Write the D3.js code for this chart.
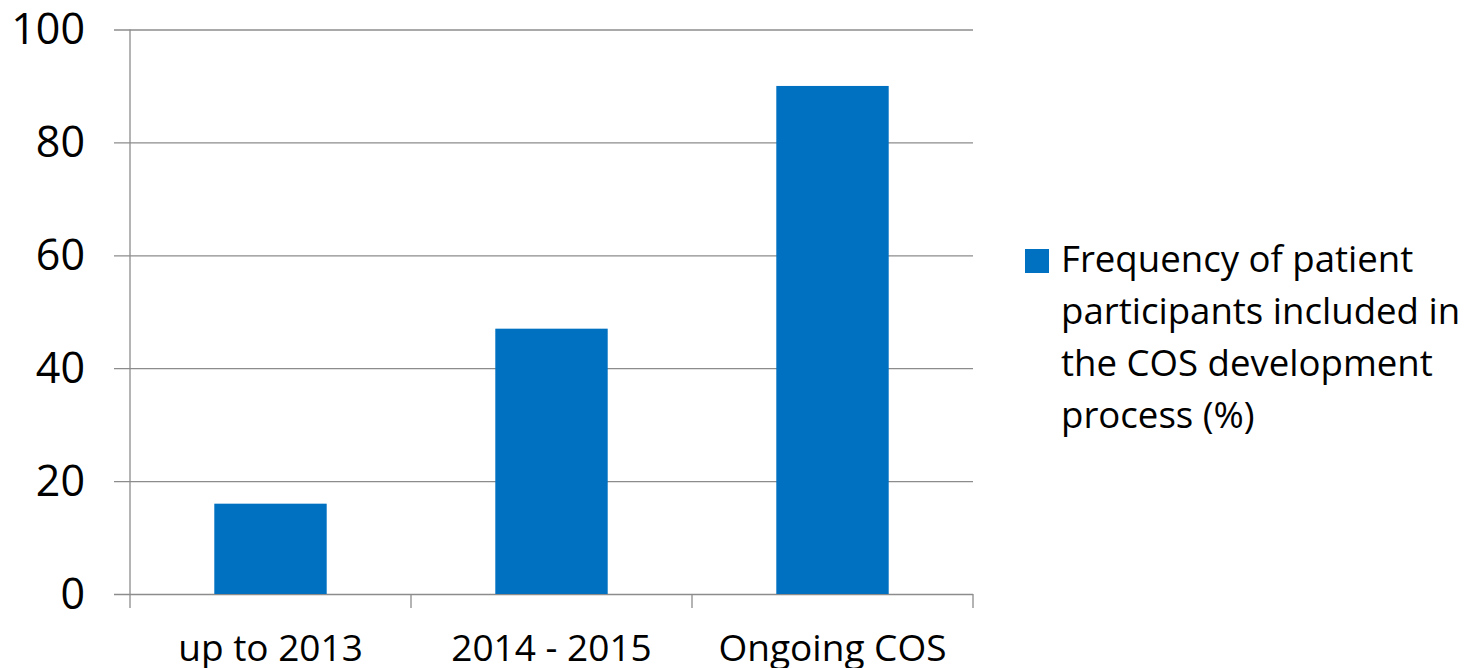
<!DOCTYPE html>
<html>
<head>
<meta charset="utf-8">
<script src="https://cdn.jsdelivr.net/npm/d3@7/dist/d3.min.js"></script>
<style>
  html, body { margin: 0; padding: 0; background: #fff; }
  svg { display: block; }
  text { font-family: "Open Sans", "DejaVu Sans", sans-serif; fill: #000; }
</style>
</head>
<body>
<svg id="chart" width="1478" height="668"></svg>
<script>
// Share of COS studies that included patient participants, by period
const categories = ["up to 2013", "2014 - 2015", "Ongoing COS"];
const values = [16, 47, 90];
const yTicks = [0, 20, 40, 60, 80, 100];
const seriesName = "Frequency of patient participants included in the COS development process (%)";
const legendLines = ["Frequency of patient", "participants included in", "the COS development", "process (%)"];

const svg = d3.select("#chart");
const plot = { left: 130, right: 973, top: 29.5, bottom: 594 };
const barColor = "#0070C0";
const gridColor = "#8c8c8c";

const x = d3.scaleBand()
  .domain(categories)
  .range([plot.left, plot.right])
  .paddingInner(0.6)
  .paddingOuter(0.3);

// boundaries between categories (for the tick marks below the axis)
const xEdge = d3.scaleLinear().domain([0, categories.length]).range([plot.left, plot.right]);

const y = d3.scaleLinear().domain([0, 100]).range([plot.bottom, plot.top]);

// horizontal gridlines + y labels
const yAxis = svg.append("g")
  .attr("transform", `translate(${plot.left},0)`)
  .call(d3.axisLeft(y).tickValues(yTicks).tickSize(-(plot.right - plot.left)).tickPadding(0));
yAxis.select(".domain").remove();
yAxis.selectAll(".tick line")
  .attr("x1", -16)
  .attr("stroke", gridColor)
  .attr("stroke-width", 1.3);
yAxis.selectAll(".tick text")
  .attr("x", -45)
  .attr("dy", 14)
  .attr("font-size", 43)
  .attr("text-anchor", "end")
  .style("font-family", '"Open Sans", sans-serif')
  .attr("fill", "#000");

// bars
svg.append("g").selectAll("rect")
  .data(values)
  .join("rect")
  .attr("x", (d, i) => x(categories[i]))
  .attr("width", x.bandwidth())
  .attr("y", d => y(d))
  .attr("height", d => y(0) - y(d))
  .attr("fill", barColor);

// vertical axis line
svg.append("line")
  .attr("x1", plot.left).attr("x2", plot.left)
  .attr("y1", plot.top).attr("y2", plot.bottom + 14)
  .attr("stroke", gridColor).attr("stroke-width", 1.3);

// category boundary ticks
svg.append("g").selectAll("line")
  .data(d3.range(1, categories.length + 1))
  .join("line")
  .attr("x1", d => xEdge(d)).attr("x2", d => xEdge(d))
  .attr("y1", plot.bottom).attr("y2", plot.bottom + 14)
  .attr("stroke", gridColor).attr("stroke-width", 1.3);

// category labels
svg.append("g").selectAll("text")
  .data(categories)
  .join("text")
  .attr("x", d => x(d) + x.bandwidth() / 2)
  .attr("y", 661)
  .attr("text-anchor", "middle")
  .attr("font-size", 37)
  .text(d => d);

// legend
const legend = svg.append("g").attr("aria-label", seriesName);
legend.append("rect")
  .attr("x", 1025).attr("y", 249)
  .attr("width", 24).attr("height", 24)
  .attr("fill", barColor);
legend.append("text")
  .attr("font-size", 36.6)
  .selectAll("tspan")
  .data(legendLines)
  .join("tspan")
  .attr("x", 1061)
  .attr("y", (d, i) => 272 + i * 52)
  .text(d => d);
</script>
</body>
</html>
